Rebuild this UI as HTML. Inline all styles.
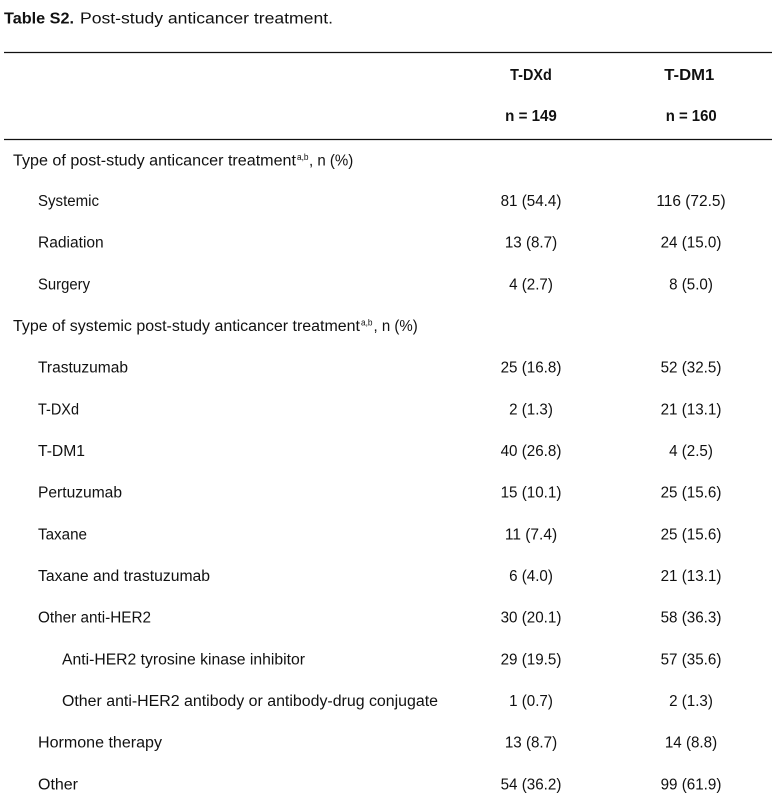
<!DOCTYPE html>
<html>
<head>
<meta charset="utf-8">
<style>
html,body{margin:0;padding:0;background:#fff;}
svg{display:block;}
text{font-family:"Liberation Sans",sans-serif;font-size:15.4px;fill:#111;}
.b{font-weight:bold;}
.s{font-size:9.5px;}
.c{text-anchor:middle;}
</style>
</head>
<body>
<svg width="777" height="797" viewBox="0 0 777 797" xmlns="http://www.w3.org/2000/svg">
<rect width="777" height="797" fill="#fff"/>
<!-- title -->
<text class="b" x="4" y="23.3" textLength="70" lengthAdjust="spacingAndGlyphs">Table S2.</text>
<text x="80" y="23.3" textLength="253" lengthAdjust="spacingAndGlyphs">Post-study anticancer treatment.</text>
<!-- rules -->
<line x1="4" y1="52.5" x2="772" y2="52.5" stroke="#111" stroke-width="1.2"/>
<line x1="4" y1="139.5" x2="772" y2="139.5" stroke="#111" stroke-width="1.2"/>
<!-- header -->
<text class="b c" x="531" y="80" textLength="41.7" lengthAdjust="spacingAndGlyphs">T-DXd</text>
<text class="b c" x="531" y="121" textLength="51.7" lengthAdjust="spacingAndGlyphs">n = 149</text>
<text class="b c" x="689.3" y="80" textLength="50" lengthAdjust="spacingAndGlyphs">T-DM1</text>
<text class="b c" x="691.2" y="121" textLength="51" lengthAdjust="spacingAndGlyphs">n = 160</text>

<!-- row 0 -->
<text x="13" y="165.7" textLength="283" lengthAdjust="spacingAndGlyphs">Type of post-study anticancer treatment</text>
<text class="s" x="297" y="160" textLength="11.5" lengthAdjust="spacingAndGlyphs">a,b</text>
<text x="309" y="165.7" textLength="44.3" lengthAdjust="spacingAndGlyphs">, n (%)</text>

<!-- row 1 -->
<text x="38" y="206" textLength="61" lengthAdjust="spacingAndGlyphs">Systemic</text>
<text class="c" x="531" y="206" textLength="60.8" lengthAdjust="spacingAndGlyphs">81 (54.4)</text>
<text class="c" x="691" y="206" textLength="69.3" lengthAdjust="spacingAndGlyphs">116 (72.5)</text>

<!-- row 2 -->
<text x="38" y="247.7" textLength="65.7" lengthAdjust="spacingAndGlyphs">Radiation</text>
<text class="c" x="531" y="247.7" textLength="52.3" lengthAdjust="spacingAndGlyphs">13 (8.7)</text>
<text class="c" x="691" y="247.7" textLength="60.8" lengthAdjust="spacingAndGlyphs">24 (15.0)</text>

<!-- row 3 -->
<text x="38" y="289.6" textLength="52" lengthAdjust="spacingAndGlyphs">Surgery</text>
<text class="c" x="531" y="289.6" textLength="43.8" lengthAdjust="spacingAndGlyphs">4 (2.7)</text>
<text class="c" x="691" y="289.6" textLength="43.8" lengthAdjust="spacingAndGlyphs">8 (5.0)</text>

<!-- row 4 -->
<text x="13" y="331" textLength="347" lengthAdjust="spacingAndGlyphs">Type of systemic post-study anticancer treatment</text>
<text class="s" x="361" y="325.3" textLength="11.5" lengthAdjust="spacingAndGlyphs">a,b</text>
<text x="373.5" y="331" textLength="44.2" lengthAdjust="spacingAndGlyphs">, n (%)</text>

<!-- row 5 -->
<text x="38" y="372.7" textLength="90" lengthAdjust="spacingAndGlyphs">Trastuzumab</text>
<text class="c" x="531" y="372.7" textLength="60.8" lengthAdjust="spacingAndGlyphs">25 (16.8)</text>
<text class="c" x="691" y="372.7" textLength="60.8" lengthAdjust="spacingAndGlyphs">52 (32.5)</text>

<!-- row 6 -->
<text x="38" y="414.3" textLength="41" lengthAdjust="spacingAndGlyphs">T-DXd</text>
<text class="c" x="531" y="414.3" textLength="43.8" lengthAdjust="spacingAndGlyphs">2 (1.3)</text>
<text class="c" x="691" y="414.3" textLength="60.8" lengthAdjust="spacingAndGlyphs">21 (13.1)</text>

<!-- row 7 -->
<text x="38" y="456" textLength="47" lengthAdjust="spacingAndGlyphs">T-DM1</text>
<text class="c" x="531" y="456" textLength="60.8" lengthAdjust="spacingAndGlyphs">40 (26.8)</text>
<text class="c" x="691" y="456" textLength="43.8" lengthAdjust="spacingAndGlyphs">4 (2.5)</text>

<!-- row 8 -->
<text x="38" y="497.7" textLength="84" lengthAdjust="spacingAndGlyphs">Pertuzumab</text>
<text class="c" x="531" y="497.7" textLength="60.8" lengthAdjust="spacingAndGlyphs">15 (10.1)</text>
<text class="c" x="691" y="497.7" textLength="60.8" lengthAdjust="spacingAndGlyphs">25 (15.6)</text>

<!-- row 9 -->
<text x="38" y="539.3" textLength="49" lengthAdjust="spacingAndGlyphs">Taxane</text>
<text class="c" x="531" y="539.3" textLength="52.3" lengthAdjust="spacingAndGlyphs">11 (7.4)</text>
<text class="c" x="691" y="539.3" textLength="60.8" lengthAdjust="spacingAndGlyphs">25 (15.6)</text>

<!-- row 10 -->
<text x="38" y="581" textLength="172" lengthAdjust="spacingAndGlyphs">Taxane and trastuzumab</text>
<text class="c" x="531" y="581" textLength="43.8" lengthAdjust="spacingAndGlyphs">6 (4.0)</text>
<text class="c" x="691" y="581" textLength="60.8" lengthAdjust="spacingAndGlyphs">21 (13.1)</text>

<!-- row 11 -->
<text x="38" y="622.7" textLength="113" lengthAdjust="spacingAndGlyphs">Other anti-HER2</text>
<text class="c" x="531" y="622.7" textLength="60.8" lengthAdjust="spacingAndGlyphs">30 (20.1)</text>
<text class="c" x="691" y="622.7" textLength="60.8" lengthAdjust="spacingAndGlyphs">58 (36.3)</text>

<!-- row 12 -->
<text x="62" y="664.3" textLength="243" lengthAdjust="spacingAndGlyphs">Anti-HER2 tyrosine kinase inhibitor</text>
<text class="c" x="531" y="664.3" textLength="60.8" lengthAdjust="spacingAndGlyphs">29 (19.5)</text>
<text class="c" x="691" y="664.3" textLength="60.8" lengthAdjust="spacingAndGlyphs">57 (35.6)</text>

<!-- row 13 -->
<text x="62" y="706" textLength="376" lengthAdjust="spacingAndGlyphs">Other anti-HER2 antibody or antibody-drug conjugate</text>
<text class="c" x="531" y="706" textLength="43.8" lengthAdjust="spacingAndGlyphs">1 (0.7)</text>
<text class="c" x="691" y="706" textLength="43.8" lengthAdjust="spacingAndGlyphs">2 (1.3)</text>

<!-- row 14 -->
<text x="38" y="747.7" textLength="124" lengthAdjust="spacingAndGlyphs">Hormone therapy</text>
<text class="c" x="531" y="747.7" textLength="52.3" lengthAdjust="spacingAndGlyphs">13 (8.7)</text>
<text class="c" x="691" y="747.7" textLength="52.3" lengthAdjust="spacingAndGlyphs">14 (8.8)</text>

<!-- row 15 -->
<text x="38" y="789.3" textLength="40" lengthAdjust="spacingAndGlyphs">Other</text>
<text class="c" x="531" y="789.3" textLength="60.8" lengthAdjust="spacingAndGlyphs">54 (36.2)</text>
<text class="c" x="691" y="789.3" textLength="60.8" lengthAdjust="spacingAndGlyphs">99 (61.9)</text>
</svg>
</body>
</html>
